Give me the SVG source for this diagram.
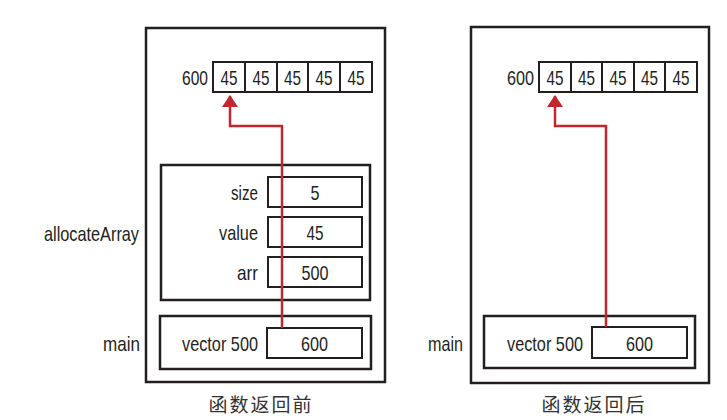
<svg xmlns="http://www.w3.org/2000/svg" width="727" height="420" viewBox="0 0 727 420">
<defs>
<style>
.frame{fill:none;stroke:#231f20;stroke-width:2.5}
.box{fill:#fff;stroke:#231f20;stroke-width:2}
.sep{stroke:#231f20;stroke-width:2}
.t{font-family:"Liberation Sans",Arial,sans-serif;font-size:21px;fill:#231f20}
.r{text-anchor:end}
.m{text-anchor:middle}
.cap{font-family:"Noto Sans CJK SC",sans-serif;font-size:19px;letter-spacing:2px;fill:#333;text-anchor:middle}
.link{fill:none;stroke:#c1272d;stroke-width:2.5}
</style>
<marker id="ah" viewBox="0 0 12 16" refX="11" refY="8" markerWidth="12" markerHeight="16" orient="auto" markerUnits="userSpaceOnUse">
<path d="M0,0 L12,8 L0,16 z" fill="#c1272d"/>
</marker>
</defs>
<rect width="727" height="420" fill="#fff"/>

<g id="before">
<rect class="frame" x="146" y="28" width="239" height="354"/>
<text class="cap" x="261" y="412">函数返回前</text>
</g>

<g id="heap-before">
<text class="t r" x="208" y="85" textLength="26" lengthAdjust="spacingAndGlyphs">600</text>
<rect class="box" x="213" y="62" width="159" height="30"/>
<line class="sep" x1="245" y1="62" x2="245" y2="92"/>
<line class="sep" x1="277" y1="62" x2="277" y2="92"/>
<line class="sep" x1="308" y1="62" x2="308" y2="92"/>
<line class="sep" x1="340" y1="62" x2="340" y2="92"/>
<text class="t m" x="229" y="85" textLength="17" lengthAdjust="spacingAndGlyphs">45</text>
<text class="t m" x="261" y="85" textLength="17" lengthAdjust="spacingAndGlyphs">45</text>
<text class="t m" x="292.5" y="85" textLength="17" lengthAdjust="spacingAndGlyphs">45</text>
<text class="t m" x="324" y="85" textLength="17" lengthAdjust="spacingAndGlyphs">45</text>
<text class="t m" x="356" y="85" textLength="17" lengthAdjust="spacingAndGlyphs">45</text>
</g>

<g id="allocateArray">
<rect class="frame" x="161" y="165" width="209" height="135"/>
<text class="t r" x="139" y="241" textLength="95" lengthAdjust="spacingAndGlyphs">allocateArray</text>
<text class="t r" x="258" y="200" textLength="27" lengthAdjust="spacingAndGlyphs">size</text>
<rect class="box" x="268" y="177" width="94" height="30"/>
<text class="t m" x="315" y="200" textLength="9" lengthAdjust="spacingAndGlyphs">5</text>
<text class="t r" x="258" y="240" textLength="39" lengthAdjust="spacingAndGlyphs">value</text>
<rect class="box" x="268" y="217" width="94" height="30"/>
<text class="t m" x="315" y="240" textLength="17" lengthAdjust="spacingAndGlyphs">45</text>
<text class="t r" x="258" y="280" textLength="21" lengthAdjust="spacingAndGlyphs">arr</text>
<rect class="box" x="268" y="257" width="94" height="30"/>
<text class="t m" x="315" y="280" textLength="27" lengthAdjust="spacingAndGlyphs">500</text>
</g>

<g id="main-before">
<rect class="frame" x="160" y="316" width="211" height="53"/>
<text class="t r" x="140" y="351" textLength="37" lengthAdjust="spacingAndGlyphs">main</text>
<text class="t r" x="258" y="351" textLength="76" lengthAdjust="spacingAndGlyphs">vector 500</text>
<rect class="box" x="267" y="328" width="95" height="30"/>
<text class="t m" x="314.5" y="351" textLength="27" lengthAdjust="spacingAndGlyphs">600</text>
</g>

<g id="after">
<rect class="frame" x="471" y="27" width="238" height="356"/>
<text class="cap" x="594" y="412">函数返回后</text>
</g>

<g id="heap-after">
<text class="t r" x="534" y="85" textLength="27" lengthAdjust="spacingAndGlyphs">600</text>
<rect class="box" x="539" y="62" width="158" height="30"/>
<line class="sep" x1="571" y1="62" x2="571" y2="92"/>
<line class="sep" x1="602" y1="62" x2="602" y2="92"/>
<line class="sep" x1="634" y1="62" x2="634" y2="92"/>
<line class="sep" x1="665" y1="62" x2="665" y2="92"/>
<text class="t m" x="555" y="85" textLength="17" lengthAdjust="spacingAndGlyphs">45</text>
<text class="t m" x="586.5" y="85" textLength="17" lengthAdjust="spacingAndGlyphs">45</text>
<text class="t m" x="618" y="85" textLength="17" lengthAdjust="spacingAndGlyphs">45</text>
<text class="t m" x="649.5" y="85" textLength="17" lengthAdjust="spacingAndGlyphs">45</text>
<text class="t m" x="681" y="85" textLength="17" lengthAdjust="spacingAndGlyphs">45</text>
</g>

<g id="main-after">
<rect class="frame" x="484" y="316" width="211" height="52"/>
<text class="t r" x="463" y="351" textLength="35" lengthAdjust="spacingAndGlyphs">main</text>
<text class="t r" x="583" y="351" textLength="76" lengthAdjust="spacingAndGlyphs">vector 500</text>
<rect class="box" x="592" y="327" width="95" height="31"/>
<text class="t m" x="639.5" y="351" textLength="27" lengthAdjust="spacingAndGlyphs">600</text>
</g>

<g id="connectors">
<polyline class="link" points="282,328 282,126 230,126 230,96" marker-end="url(#ah)"/>
<polyline class="link" points="606,327 606,126 555,126 555,96" marker-end="url(#ah)"/>
</g>
</svg>
